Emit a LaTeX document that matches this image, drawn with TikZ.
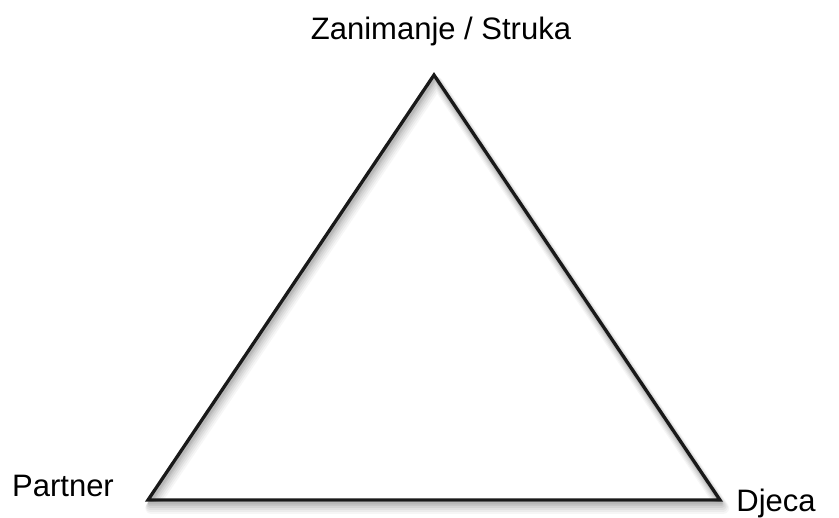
\documentclass[tikz,border=0pt]{standalone}
\usepackage{fontspec}
\setmainfont{Liberation Sans}
\begin{document}
\begin{tikzpicture}[x=1pt,y=-1pt,
  lbl/.style={font=\fontsize{31}{34}\selectfont, inner sep=0pt, text=black},
  edge/.style={draw=black!90, line width=3.3pt, line join=miter}]
\useasboundingbox (0,0) rectangle (839,518);
\coordinate (T) at (434,75);
\coordinate (L) at (148,500);
\coordinate (R) at (720,500);
% soft shadow
\foreach \o/\w/\op in {8/12/0.07,7/10/0.09,6/8/0.11,5/6/0.13,4/4/0.16,3/3/0.2}{
  \draw[black!50, line width=\w pt, opacity=\op, line join=round]
    ([shift={(\o*0.4,\o)}]T) -- ([shift={(\o*0.4,\o)}]L) -- ([shift={(\o*0.4,\o)}]R) -- cycle;
}
\draw[edge] (T) -- (L) -- (R) -- cycle;
\node[lbl] (top) at (441,31) {Zanimanje / Struka};
\node[lbl] (partner) at (63,486) {Partner};
\node[lbl] (djeca) at (776,503) {Djeca};
\end{tikzpicture}
\end{document}
